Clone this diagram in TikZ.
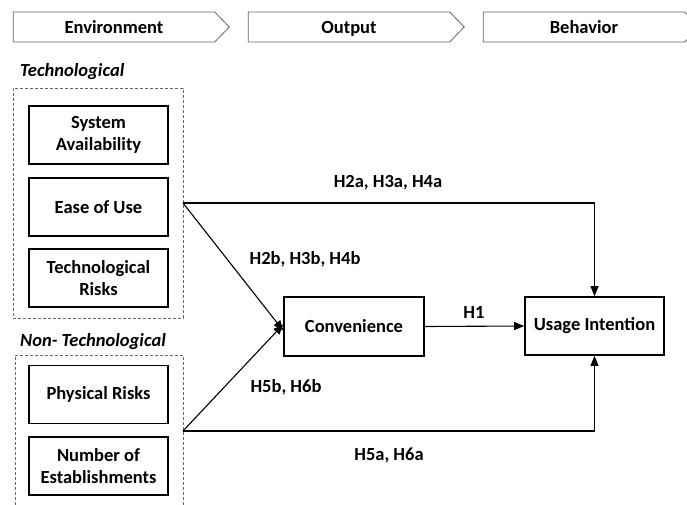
\documentclass[tikz,border=0pt]{standalone}
\usepackage{fontspec}
\setmainfont{Carlito}
\usetikzlibrary{arrows.meta,shapes.symbols}

\begin{document}
\begin{tikzpicture}[
  x=1pt, y=-1pt,
  every node/.style={font=\bfseries\fontsize{18.5}{22.5}\selectfont, align=center, inner sep=0pt},
  stage/.style={draw=black!60, line width=0.8pt, signal, signal to=east, signal pointer angle=92, minimum width=216pt, minimum height=30pt, text height=14pt, text depth=2pt},
  factor/.style={draw, line width=1.7pt, minimum width=139pt, minimum height=58pt},
  group/.style={draw=black!60, line width=0.7pt, dash pattern=on 3pt off 2pt},
  grouplabel/.style={font=\bfseries\itshape\fontsize{18.5}{22.5}\selectfont, anchor=west},
  link/.style={line width=1.1pt, -{Triangle[length=10pt,width=8pt]}}
]
\useasboundingbox (0,0) rectangle (687,504);
\clip (0,0) rectangle (687,504);

% stages
\node[stage] (env) at (114,27) {Environment};
\node[stage] (out) at (349,27) {Output};
\node[stage] (beh) at (584,27) {Behavior};

% groups
\node[grouplabel] (techlbl) at (20,72) {Technological};
\node[group, minimum width=170pt, minimum height=230pt] (techgrp) at (98,203) {};
\node[grouplabel] (nontechlbl) at (20,342) {Non- Technological};
\draw[group] (15,520) -- (15,355) -- (183,355) -- (183,520);

% factors
\node[factor] (avail) at (98.5,135) {System\\Availability};
\node[factor] (ease) at (98.5,207) {Ease of Use};
\node[factor] (techrisk) at (98.5,278) {Technological\\Risks};
\node[factor] (physrisk) at (98.5,394.5) {Physical Risks};
\node[factor] (estab) at (98.5,466) {Number of\\Establishments};

\node[factor, minimum width=140pt, minimum height=59pt] (conv) at (354,326.5) {Convenience};
\node[factor] (usage) at (594.5,326) {Usage Intention};

\coordinate (techout) at (183,203);
\coordinate (nontechout) at (183,431);

% hypotheses
\draw[link] (techout) -- ([yshift=-4pt]conv.west);
\draw[link] (nontechout) -- ([yshift=2pt]conv.west);
\draw[link] (techout) -- (techout -| usage) -- (usage.north);
\draw[link] (nontechout) -- (nontechout -| usage) -- (usage.south);
\draw[link] (conv.east) -- (usage.west);

\node (h2a) at (388,183) {H2a, H3a, H4a};
\node (h2b) at (305,259) {H2b, H3b, H4b};
\node (h5b) at (286,387) {H5b, H6b};
\node (h5a) at (389,455) {H5a, H6a};
\node (h1) at (474,312) {H1};
\end{tikzpicture}
\end{document}
